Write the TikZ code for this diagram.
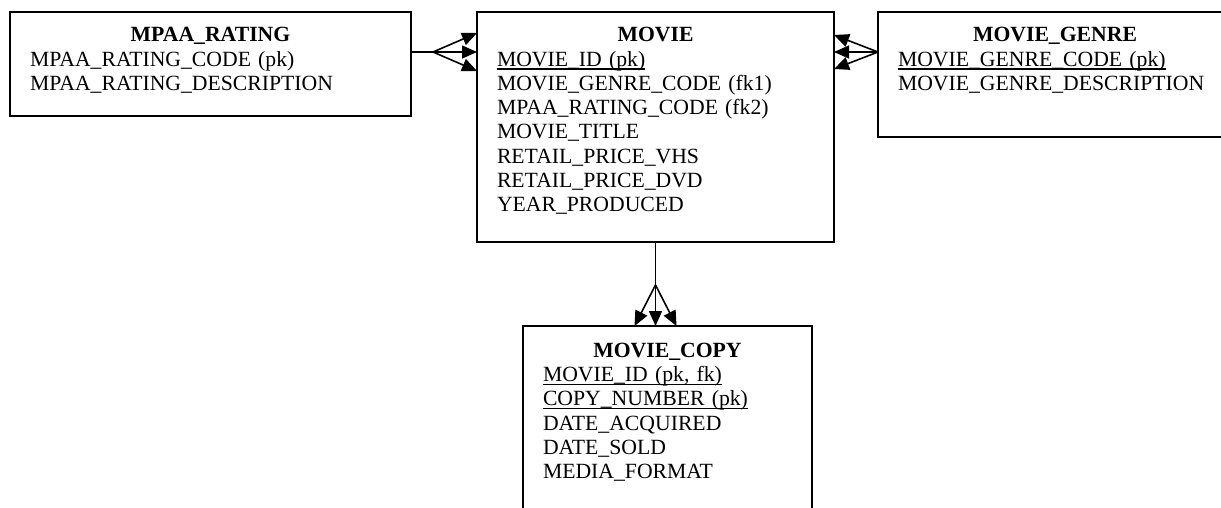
\documentclass[tikz,border=0pt]{standalone}
\usepackage{fontspec}
\setmainfont{Liberation Serif}
\usetikzlibrary{arrows.meta,calc,positioning}
\newcommand{\keyattr}[1]{\leavevmode\setbox0\hbox{#1}%
  \rlap{\vrule height -2.4pt depth 3.6pt width \wd0}\box0}

\begin{document}
\begin{tikzpicture}[x=1pt,y=-1pt,
  entity/.style={draw,line width=2pt,anchor=north west,outer sep=0pt},
  fields/.style={anchor=north,inner sep=0pt,align=left,
                 font=\fontsize{21.7}{24.3}\selectfont},
  link/.style={line width=1.6pt},
  fork/.style={link,-{Triangle[length=15pt,width=13pt]}}]
  \useasboundingbox (0,0) rectangle (1221,507);
  % tables
  \node[entity,minimum width=401pt,minimum height=104pt] (rating) at (10,12) {};
  \node[entity,minimum width=357pt,minimum height=230pt] (movie) at (477,12) {};
  \node[entity,minimum width=400pt,minimum height=125pt] (genre) at (878,12) {};
  \node[entity,minimum width=289pt,minimum height=200pt] (copy) at (523,326) {};
  \node[fields,text width=361pt] (ratingtext) at ($(rating.north)+(0,15.2)$)
    {{\centering\textbf{MPAA\_RATING}\par}
     MPAA\_RATING\_CODE (pk)\\
     MPAA\_RATING\_DESCRIPTION};
  \node[fields,text width=317pt] (movietext) at ($(movie.north)+(0,15.2)$)
    {{\centering\textbf{MOVIE}\par}
     \keyattr{MOVIE\_ID (pk)}\\
     MOVIE\_GENRE\_CODE (fk1)\\
     MPAA\_RATING\_CODE (fk2)\\
     MOVIE\_TITLE\\
     RETAIL\_PRICE\_VHS\\
     RETAIL\_PRICE\_DVD\\
     YEAR\_PRODUCED};
  \node[fields,text width=314pt] (genretext) at ($(genre.north west)+(177,15.2)$)
    {{\centering\textbf{MOVIE\_GENRE}\par}
     \keyattr{MOVIE\_GENRE\_CODE (pk)}\\
     MOVIE\_GENRE\_DESCRIPTION};
  \node[fields,text width=249pt] (copytext) at ($(copy.north)+(0,16.6)$)
    {{\centering\textbf{MOVIE\_COPY}\par}
     \keyattr{MOVIE\_ID (pk, fk)}\\
     \keyattr{COPY\_NUMBER (pk)}\\
     DATE\_ACQUIRED\\
     DATE\_SOLD\\
     MEDIA\_FORMAT};
  % relationships
  \coordinate (ratingfork) at (433,52);
  \coordinate (genrefork) at ($(genre.north west)+(0,40)$);
  \coordinate (copyfork) at ($(movie.south)+(0,43)$);
  \draw[link] (ratingfork -| rating.east) -- (ratingfork);
  \foreach \dy in {-19,0,19}
    \draw[fork] (ratingfork) -- ($(ratingfork -| movie.west)+(0,\dy)$);
  \foreach \dy in {-17,0,17}
    \draw[fork] (genrefork) -- ($(genrefork -| movie.east)+(0,\dy)$);
  \draw[link] (movie.south) -- (copyfork);
  \foreach \dx in {-21,0,21}
    \draw[fork] (copyfork) -- ($(copyfork |- copy.north)+(\dx,0)$);
\end{tikzpicture}
\end{document}
